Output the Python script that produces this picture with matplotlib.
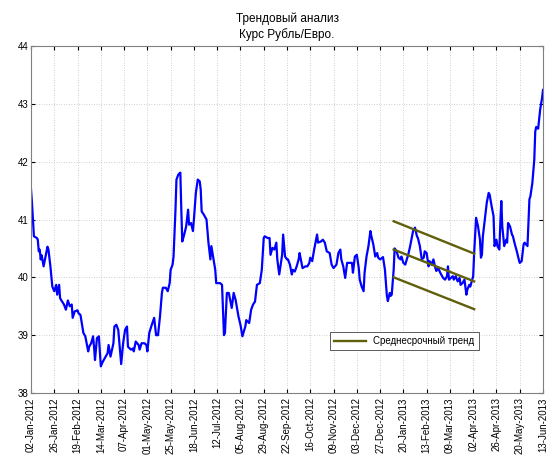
import numpy as np
import matplotlib
matplotlib.use("Agg")
import matplotlib.pyplot as plt
import matplotlib.dates as mdates

start_date = np.datetime64('2012-01-02')

# day offsets from 02-Jan-2012 and RUB/EUR rate
day_offsets = [
    0, 1, 2, 3, 6, 7, 8, 9, 10, 11, 13, 15, 17, 18, 20, 22, 24, 26, 27, 29, 30, 31, 34, 36, 38, 40, 42, 43, 45, 48,
    49, 51, 54, 56, 59, 60, 62, 64, 65, 66, 68, 70, 72, 74, 77, 79, 80, 82, 85, 86, 88, 90, 93, 95, 97, 99, 100, 103,
    105, 106, 108, 111, 112, 114, 117, 119, 120, 122, 124, 127, 129, 131, 133, 135, 136, 139, 141, 143, 144, 146, 147,
    149, 150, 152, 154, 155, 156, 158, 160, 162, 163, 165, 167, 168, 170, 172, 174, 175, 176, 178, 179, 181, 183, 185,
    186, 188, 190, 191, 195, 197, 199, 200, 202, 204, 207, 209, 211, 214, 216, 218, 221, 222, 225, 227, 229, 231, 233,
    236, 238, 240, 241, 244, 246, 247, 249, 251, 253, 254, 256, 259, 260, 262, 264, 265, 267, 269, 270, 272, 274, 276,
    277, 280, 283, 285, 287, 288, 290, 292, 295, 296, 299, 301, 303, 305, 308, 310, 312, 315, 317, 319, 320, 322, 324,
    326, 328, 331, 332, 334, 336, 338, 339, 341, 343, 344, 346, 348, 350, 351, 353, 355, 357, 358, 360, 363, 365, 367,
    368, 370, 371, 372, 374, 375, 377, 379, 381, 382, 384, 386, 387, 389, 391, 393, 394, 396, 398, 399, 401, 403, 405,
    406, 408, 410, 411, 413, 415, 417, 418, 420, 422, 423, 425, 427, 429, 430, 431, 433, 435, 436, 438, 440, 442, 443,
    445, 447, 449, 450, 452, 453, 456, 457, 459, 461, 463, 464, 465, 466, 468, 470, 472, 473, 475, 477, 478, 480, 481,
    483, 484, 485, 486, 488, 490, 491, 492, 494, 496, 497, 499, 501, 503, 504, 506, 508, 509, 512, 514, 515, 517, 519,
    520, 521, 523, 525, 526, 527, 528,
]
rate = [
    41.52, 41.29, 41.00, 40.71, 40.68, 40.65, 40.45, 40.48, 40.31, 40.38, 40.19, 40.36, 40.53, 40.48, 40.19, 39.84,
    39.76, 39.87, 39.70, 39.87, 39.64, 39.61, 39.53, 39.44, 39.60, 39.50, 39.53, 39.30, 39.41, 39.43, 39.38, 39.35,
    39.04, 38.98, 38.72, 38.80, 38.86, 38.98, 38.80, 38.57, 38.95, 38.98, 38.46, 38.54, 38.63, 38.69, 38.83, 38.63,
    38.86, 39.15, 39.18, 39.09, 38.50, 38.86, 39.09, 39.15, 38.80, 38.75, 38.77, 38.72, 38.89, 38.83, 38.75, 38.86,
    38.86, 38.83, 38.72, 39.04, 39.15, 39.30, 39.00, 39.00, 39.32, 39.73, 39.82, 39.82, 39.76, 39.90, 40.13, 40.22,
    40.36, 41.17, 41.69, 41.78, 41.81, 41.17, 40.62, 40.74, 40.88, 41.17, 40.91, 40.94, 40.80, 41.00, 41.46, 41.69,
    41.66, 41.52, 41.14, 41.09, 41.06, 41.00, 40.60, 40.31, 40.54, 40.34, 40.13, 39.90, 39.90, 39.87, 39.00, 39.04,
    39.73, 39.73, 39.47, 39.73, 39.61, 39.32, 39.18, 38.98, 39.15, 39.26, 39.21, 39.44, 39.53, 39.58, 39.87, 39.90,
    40.13, 40.68, 40.71, 40.68, 40.68, 40.39, 40.51, 40.48, 40.60, 40.31, 40.05, 40.39, 40.74, 40.36, 40.31, 40.31,
    40.22, 40.05, 40.13, 40.10, 40.19, 40.31, 40.42, 40.16, 40.19, 40.19, 40.25, 40.34, 40.28, 40.48, 40.74, 40.60,
    40.62, 40.65, 40.60, 40.45, 40.42, 40.22, 40.16, 40.22, 40.42, 40.48, 40.31, 40.19, 39.99, 40.25, 40.25, 40.25,
    40.08, 40.36, 40.39, 40.16, 39.96, 39.84, 39.76, 40.08, 40.36, 40.54, 40.80, 40.71, 40.57, 40.36, 40.42, 40.34,
    40.31, 40.35, 40.13, 39.68, 39.59, 39.73, 39.68, 39.70, 40.13, 40.50, 40.45, 40.34, 40.31, 40.36, 40.25, 40.22,
    40.28, 40.39, 40.54, 40.71, 40.80, 40.86, 40.71, 40.68, 40.54, 40.31, 40.34, 40.45, 40.42, 40.19, 40.28, 40.22,
    40.31, 40.16, 40.11, 40.16, 40.08, 40.05, 39.99, 39.96, 40.02, 40.19, 39.96, 39.99, 40.02, 39.96, 40.02, 39.93,
    39.99, 39.87, 39.90, 39.96, 39.70, 39.79, 39.87, 39.84, 40.02, 40.42, 41.03, 40.88, 40.65, 40.34, 40.39, 40.71,
    41.00, 41.29, 41.46, 41.43, 41.23, 41.06, 40.54, 40.65, 40.54, 40.48, 40.94, 41.32, 40.88, 40.54, 40.65, 40.60,
    40.94, 40.88, 40.74, 40.71, 40.57, 40.45, 40.31, 40.25, 40.28, 40.57, 40.60, 40.54, 41.35, 41.40, 41.63, 42.03,
    42.52, 42.60, 42.57, 42.89, 43.00, 43.09, 43.24,
]

# medium-term trend channel (start / end dates and levels)
trend_dates = ['2013-01-10', '2013-04-03']
trend_upper = [40.97, 40.41]
trend_middle = [40.48, 39.93]
trend_lower = [40.00, 39.45]

tick_dates = ['2012-01-02', '2012-01-26', '2012-02-19', '2012-03-14', '2012-04-07', '2012-05-01',
              '2012-05-25', '2012-06-18', '2012-07-12', '2012-08-05', '2012-08-29', '2012-09-22',
              '2012-10-16', '2012-11-09', '2012-12-03', '2012-12-27', '2013-01-20', '2013-02-13',
              '2013-03-09', '2013-04-02', '2013-04-26', '2013-05-20', '2013-06-13']
y_ticks = [38, 39, 40, 41, 42, 43, 44]

title_text = 'Трендовый анализ\nКурс Рубль/Евро.'
legend_label = 'Среднесрочный тренд'

plt.rcParams['font.family'] = ['Liberation Sans', 'DejaVu Sans']

dates = start_date + np.array(day_offsets).astype('timedelta64[D]')
dates = dates.astype('datetime64[ms]').astype(object)
tdates = np.array(trend_dates, dtype='datetime64[D]').astype('datetime64[ms]').astype(object)
tks = np.array(tick_dates, dtype='datetime64[D]').astype('datetime64[ms]').astype(object)

fig = plt.figure(figsize=(5.48, 4.59), dpi=100)
ax = fig.add_axes([31/548, 1-393/459, 512/548, 347/459])

ax.plot(dates, rate, color='#0000ff', lw=1.6, solid_joinstyle='round')
trend_color = '#5f5f0c'
ax.plot(tdates, trend_upper, color=trend_color, lw=1.7, label=legend_label)
ax.plot(tdates, trend_middle, color=trend_color, lw=1.7)
ax.plot(tdates, trend_lower, color=trend_color, lw=1.7)

ax.set_xlim(tks[0], tks[-1])
ax.set_ylim(y_ticks[0], y_ticks[-1])
ax.set_xticks(tks)
ax.xaxis.set_major_formatter(mdates.DateFormatter('%d-%b-%Y'))
ax.set_yticks(y_ticks)
ax.tick_params(axis='x', labelrotation=90, labelsize=7, direction='in', top=True, length=3, pad=3)
ax.tick_params(axis='y', labelsize=7, direction='in', right=True, length=3, pad=2)
ax.grid(True, color='#c0c0c0', linestyle=(0, (1, 2)), lw=0.6)
for s in ax.spines.values():
    s.set_color('#808080')
    s.set_linewidth(0.8)

ax.set_title(title_text, fontsize=8.5, pad=6, linespacing=1.25)

leg = ax.legend(loc='center', bbox_to_anchor=(0.7295, 0.15), fontsize=7, frameon=True,
                fancybox=False, edgecolor='#404040', framealpha=1, handlelength=3.2,
                borderpad=0.45, handletextpad=0.8)
leg.get_frame().set_linewidth(0.6)

fig.savefig('out.png', dpi=100)
